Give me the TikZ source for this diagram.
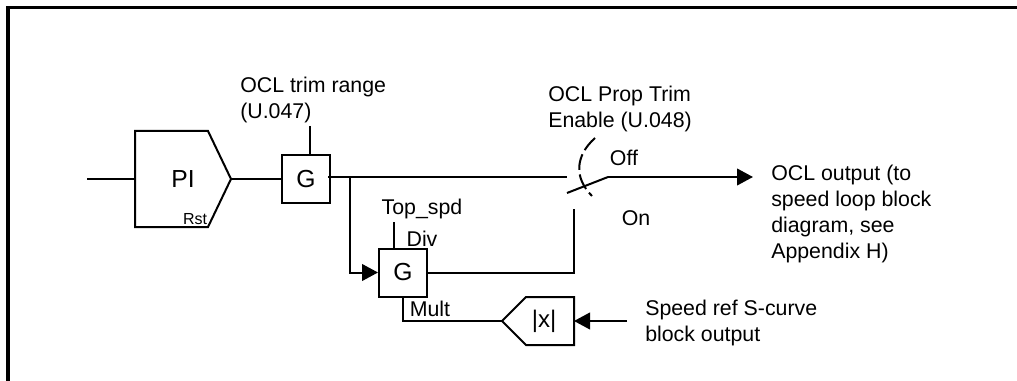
\documentclass[tikz,border=0pt]{standalone}
\usepackage{fontspec}
\setmainfont{Liberation Sans}
\usetikzlibrary{arrows.meta}
\tikzset{
  x=0.75pt,y=-0.75pt,
  wire/.style={line width=1.5pt,line join=miter},
  flow/.style={wire,-{Triangle[length=12pt,width=12.5pt]}},
  thin wire/.style={line width=1.2pt},
  frame/.style={line width=2.4pt},
  gainbox/.style={draw,line width=1.5pt,minimum size=36pt,inner sep=0pt,font=\fontsize{18.5}{22}\selectfont},
  lbl/.style={inner sep=0pt,align=left,font=\fontsize{16}{19.5}\selectfont},
  small lbl/.style={inner sep=0pt,font=\fontsize{12}{14}\selectfont},
}
\begin{document}
\begin{tikzpicture}
\useasboundingbox (0,0) rectangle (1017,381);
% frame
\coordinate (fbl) at (8,381);
\coordinate (ftl) at (8,7.5);
\coordinate (ftr) at (1017,7.5);
\draw[frame] (fbl) -- (ftl) -- (ftr);
% PI block
\coordinate (pil) at (135,179);
\coordinate (pitip) at (231,179);
\coordinate (inp) at (87,179);
\draw[wire] (135,131) -- (208,131) -- (pitip) -- (208,227) -- (135,227) -- cycle;
\node[lbl,font=\fontsize{18.5}{22}\selectfont] (pi) at (183,179) {PI};
\node[small lbl] (rst) at (195,219) {Rst};
\draw[wire] (inp) -- (pil);
% gain 1
\node[gainbox] (g1) at (306,179) {G};
\draw[wire] (pitip) -- (g1.west);
\coordinate (trim) at (309.5,126);
\draw[wire] (trim) -- (trim |- g1.north);
\node[lbl,anchor=west] (trimlbl) at (240,100) {OCL trim range\\(U.047)};
% switch
\coordinate (swin) at (567,177);
\coordinate (swa) at (567,193);
\coordinate (swb) at (608,177);
\coordinate (outtip) at (753,177);
\coordinate (gstub) at (328,177);
\coordinate (branch) at (350,177);
\draw[wire] (gstub) -- (swin);
\draw[wire] (swa) -- (swb);
\draw[flow] (swb) -- (outtip);
\draw[wire,dash pattern=on 12pt off 3.5pt] (595,138) .. controls (575,156) and (574,178) .. (592,196);
\node[lbl] (off) at (624,158) {Off};
\node[lbl] (on) at (636,218) {On};
\node[lbl,anchor=west] (proplbl) at (548,109) {OCL Prop Trim\\Enable (U.048)};
\node[lbl,anchor=west] (outlbl) at (771,214) {OCL output (to\\speed loop block\\diagram, see\\Appendix H)};
% gain 2
\node[gainbox] (g2) at (403,272.5) {G};
\draw[flow] (branch) |- (g2.west);
\coordinate (topin) at (394,222);
\draw[thin wire] (topin) -- (topin |- g2.north);
\node[lbl] (top) at (422,209) {Top\_spd};
\node[lbl] (div) at (422,239) {Div};
\coordinate (swc) at (574,209);
\draw[wire] (g2.east) -| (swc);
% abs block
\coordinate (abstip) at (502,321);
\coordinate (absr) at (574,321);
\coordinate (srcp) at (627,321);
\draw[wire] (abstip) -- (526,297) -- (574,297) -- (574,345) -- (526,345) -- cycle;
\node[lbl,font=\fontsize{18}{22}\selectfont] (abs) at (544,321) {|x|};
\draw[wire] (g2.south) |- (abstip);
\node[lbl] (mult) at (430,309) {Mult};
\draw[flow] (srcp) -- (absr);
\node[lbl,anchor=west] (speedlbl) at (645,323) {Speed ref S-curve\\block output};
\end{tikzpicture}
\end{document}
